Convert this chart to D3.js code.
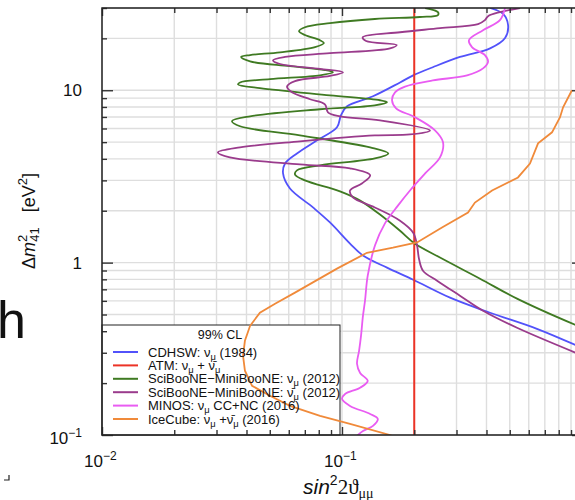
<!DOCTYPE html>
<html>
<head>
<meta charset="utf-8">
<title>sterile nu_mu disappearance limits</title>
<script src="https://d3js.org/d3.v7.min.js"></script>
<style>
  body { margin: 0; background: #fff; }
  text { font-family: "Liberation Sans", Arial, sans-serif; fill: #111; }
</style>
</head>
<body>
<svg id="chart" width="575" height="500"></svg>
<script>
// each point: [sin^2 2theta_mumu, dm2_41 (eV^2)]
var cdhsw = [[0.414,30],[0.469,27.7],[0.492,23.9],[0.478,20.1],[0.414,17.5],[0.310,15.6],[0.239,13.6],
  [0.198,12.2],[0.1745,11.1],[0.1346,9.23],[0.105,8.07],[0.099,7.16],[0.0953,6.10],[0.0787,5.12],
  [0.0649,4.30],[0.0579,3.76],[0.0568,3.29],[0.0607,2.69],[0.0757,2.09],[0.0891,1.71],[0.108,1.29],
  [0.1223,1.10],[0.154,0.935],[0.198,0.796],[0.282,0.626],[0.414,0.512],[0.649,0.413],[1.0,0.32]];

var atm = [[0.2,0.1],[0.2,30]];

var sbmbNu = [[0.222,30],[0.251,28.4],[0.251,27.3],[0.211,26.6],[0.137,25.9],[0.0891,24.5],[0.0701,23.2],
  [0.0662,22.0],[0.0701,20.9],[0.081,19.5],[0.0841,18.8],[0.0772,17.8],[0.0552,16.6],[0.0414,16.0],
  [0.038,15.6],[0.0414,14.7],[0.0607,13.8],[0.0849,13.1],[0.0917,12.7],[0.081,12.2],[0.0501,11.6],
  [0.0376,11.1],[0.0369,10.8],[0.0455,10.3],[0.0891,9.35],[0.144,8.75],[0.154,8.52],[0.137,8.18],
  [0.081,7.76],[0.0414,7.06],[0.0348,6.61],[0.0376,6.18],[0.0668,5.47],[0.131,4.66],[0.156,4.30],
  [0.137,4.02],[0.081,3.67],[0.0649,3.43],[0.0637,3.25],[0.0701,3.00],[0.0981,2.59],[0.119,2.29],
  [0.144,1.90],[0.1745,1.53],[0.201,1.29],[0.256,1.07],[0.376,0.807],[0.536,0.618],[0.935,0.436],[1.0,0.42]];

var sbmbNubar = [[0.552,30],[0.455,28.4],[0.406,26.9],[0.394,25.5],[0.369,24.2],[0.256,22.9],[0.1745,21.7],
  [0.122,20.3],[0.126,19.3],[0.169,18.3],[0.1585,17.5],[0.0891,16.4],[0.0579,15.6],[0.0516,14.9],
  [0.0552,14.2],[0.081,13.3],[0.101,12.7],[0.0891,12.1],[0.0637,11.3],[0.059,10.5],[0.0619,9.73],
  [0.0736,8.87],[0.0849,8.29],[0.0874,7.45],[0.0981,7.06],[0.144,6.69],[0.2326,5.85],[0.192,5.54],
  [0.137,5.47],[0.0668,5.05],[0.0376,4.66],[0.0304,4.36],[0.0341,4.08],[0.0668,3.71],[0.108,3.52],
  [0.131,3.21],[0.121,2.88],[0.108,2.62],[0.111,2.39],[0.137,2.09],[0.1745,1.75],[0.198,1.49],
  [0.2054,1.26],[0.2094,1.05],[0.2175,0.898],[0.249,0.786],[0.310,0.643],[0.387,0.526],[0.536,0.419],[1.0,0.29]];

var minos = [[0.478,30],[0.455,25.5],[0.387,22.3],[0.338,19.5],[0.348,17.8],[0.394,16.0],[0.406,14.6],
  [0.387,13.4],[0.332,12.2],[0.239,11.4],[0.183,10.5],[0.1663,9.73],[0.1616,8.75],[0.168,7.86],
  [0.2014,6.97],[0.244,5.85],[0.2636,4.99],[0.256,4.08],[0.222,3.29],[0.192,2.62],[0.171,2.14],
  [0.151,1.69],[0.1373,1.26],[0.128,0.84],[0.1247,0.601],[0.1223,0.492],[0.12,0.376],[0.1178,0.308],
  [0.1155,0.259],[0.119,0.229],[0.128,0.206],[0.119,0.188],[0.103,0.173],[0.1,0.162],[0.108,0.1475],
  [0.131,0.1325],[0.141,0.124],[0.1346,0.113],[0.1223,0.1055],[0.1155,0.099]];

var icecube = [[0.17,0.096],[0.1585,0.1],[0.108,0.116],[0.081,0.129],[0.0607,0.1475],[0.0501,0.169],[0.0422,0.193],
  [0.0394,0.236],[0.0387,0.288],[0.0394,0.352],[0.0414,0.43],[0.0455,0.512],[0.0526,0.578],[0.0637,0.67],
  [0.0953,0.923],[0.127,1.14],[0.163,1.22],[0.2054,1.31],[0.261,1.60],[0.335,1.95],[0.358,2.23],
  [0.422,2.62],[0.541,3.12],[0.607,3.76],[0.656,4.92],[0.75,5.70],[0.81,6.97],[0.834,7.97],[0.908,10.0]];

var seriesNames = ['CDHSW', 'ATM', 'SciBooNE-MiniBooNE nu', 'SciBooNE-MiniBooNE nubar', 'MINOS', 'IceCube'];
var seriesData = [cdhsw, atm, sbmbNu, sbmbNubar, minos, icecube];
var seriesColors = ['#5252fa', '#ec3326', '#3f7a22', '#9a3b8c', '#e95cf2', '#f08a3a'];

// legend labels: [text, style]  style: '' normal, 'sub' subscript
var legendLabels = [
  [['CDHSW: ν',''],['μ','sub'],[' (1984)','']],
  [['ATM: ν',''],['μ','sub'],[' + ν\u0304',''],['μ','sub']],
  [['SciBooNE−MiniBooNE: ν',''],['μ','sub'],[' (2012)','']],
  [['SciBooNE−MiniBooNE: ν\u0304',''],['μ','sub'],[' (2012)','']],
  [['MINOS: ν',''],['μ','sub'],[' CC+NC (2016)','']],
  [['IceCube: ν',''],['μ','sub'],[' +ν\u0304',''],['μ','sub'],[' (2016)','']]
];

var xMajor = [0.01, 0.1, 1];
var xMinor = [0.02,0.03,0.04,0.05,0.06,0.07,0.08,0.09,0.2,0.3,0.4,0.5,0.6,0.7,0.8,0.9];
var yMajor = [0.1, 1, 10];
var yMinor = [0.2,0.3,0.4,0.5,0.6,0.7,0.8,0.9,2,3,4,5,6,7,8,9,20,30];
var xTickLabels = [['10','−2'], ['10','−1']];
var yTickLabels = [['10','−1'], ['1',''], ['10','']];

(function draw() {
  var svg = d3.select('#chart');
  var pl = 102, pr = 582, pt = 8, pb = 435;

  var x = d3.scaleLog().domain([0.01, 1]).range([pl, pr]);
  var y = d3.scaleLog().domain([0.1, 30]).range([pb, pt]);

  // big stray glyph at the left edge of the picture
  svg.append('text').attr('x', -3).attr('y', 338).style('font-size', '52px').text('h');
  svg.append('path').attr('d', 'M4,480 L9,480 L9,475').attr('fill', 'none').attr('stroke', '#222').attr('stroke-width', 1.2);

  // grid
  var grid = svg.append('g');
  grid.selectAll('.gx').data(xMajor.concat(xMinor)).enter().append('line')
    .attr('x1', d => x(d)).attr('x2', d => x(d)).attr('y1', pt).attr('y2', pb)
    .attr('stroke', '#dedede').attr('stroke-width', 1.4);
  grid.selectAll('.gy').data(yMajor.concat(yMinor)).enter().append('line')
    .attr('y1', d => y(d)).attr('y2', d => y(d)).attr('x1', pl).attr('x2', pr)
    .attr('stroke', '#dedede').attr('stroke-width', 1.4);

  // legend box (under the curves)
  svg.append('rect').attr('x', pl).attr('y', 325).attr('width', 238).attr('height', pb - 325)
    .attr('fill', '#fff').attr('stroke', '#222').attr('stroke-width', 1);

  // curves
  svg.append('clipPath').attr('id', 'plotclip').append('rect')
    .attr('x', pl).attr('y', pt).attr('width', pr - pl).attr('height', pb - pt);
  var curves = svg.append('g').attr('clip-path', 'url(#plotclip)');

  seriesData.forEach(function(d, i) {
    var line = d3.line()
      .x(p => x(p[0])).y(p => y(p[1]))
      .curve(i == 5 || i == 1 ? d3.curveLinear : d3.curveCatmullRom.alpha(0.5));
    curves.append('path').datum(d)
      .attr('d', line)
      .attr('fill', 'none')
      .attr('stroke', seriesColors[i])
      .attr('stroke-width', i == 1 ? 2 : 1.8);
  });

  // legend content
  svg.append('text').attr('x', 220).attr('y', 339).attr('text-anchor', 'middle')
    .style('font-size', '12.5px').text('99% CL');

  function richText(sel, parts, size) {
    var shift = 0;
    parts.forEach(function(p) {
      var t = sel.append('tspan').text(p[0]);
      var want = p[1] == 'sub' ? 3 : 0;
      t.attr('dy', want - shift);
      shift = want;
      if (p[1] == 'sub') t.style('font-size', (size * 0.72) + 'px');
    });
  }

  legendLabels.forEach(function(parts, i) {
    var ly = 352 + i * 13.4;
    svg.append('line').attr('x1', 113).attr('x2', 138).attr('y1', ly).attr('y2', ly)
      .attr('stroke', seriesColors[i]).attr('stroke-width', 2);
    var t = svg.append('text').attr('x', 148).attr('y', ly + 4.5).style('font-size', '13px');
    richText(t, parts, 13);
  });

  // axes: ticks pointing inward, frame drawn separately
  function ticks(axis, vals, size, tr) {
    var g = svg.append('g').attr('transform', tr)
      .call(axis.tickValues(vals).tickSize(-size).tickFormat(''));
    g.select('.domain').remove();
    g.selectAll('line').attr('stroke', '#333').attr('stroke-width', 1.4);
  }
  ticks(d3.axisLeft(y), yMinor, 5, 'translate(' + pl + ',0)');
  ticks(d3.axisLeft(y), yMajor, 11, 'translate(' + pl + ',0)');
  ticks(d3.axisRight(y), yMajor, 10, 'translate(' + pr + ',0)');
  ticks(d3.axisBottom(x), xMinor, 5, 'translate(0,' + pb + ')');
  ticks(d3.axisBottom(x), xMajor, 8, 'translate(0,' + pb + ')');
  ticks(d3.axisTop(x), xMinor, 5, 'translate(0,' + pt + ')');
  ticks(d3.axisTop(x), xMajor, 8, 'translate(0,' + pt + ')');

  svg.append('path')
    .attr('d', 'M' + pr + ',' + pt + 'H' + pl + 'V' + pb + 'H' + pr)
    .attr('fill', 'none').attr('stroke', '#222').attr('stroke-width', 1.5);

  // tick labels
  yMajor.forEach(function(v, i) {
    var t = svg.append('text').attr('x', 82).attr('y', y(v) + (i == 0 ? 9 : 6))
      .attr('text-anchor', 'end').style('font-size', '17px');
    t.append('tspan').text(yTickLabels[i][0]);
    if (yTickLabels[i][1]) t.append('tspan').attr('dy', -7).style('font-size', '12px').text(yTickLabels[i][1]);
  });
  xMajor.slice(0, 2).forEach(function(v, i) {
    var t = svg.append('text').attr('x', x(v) - 18).attr('y', 467).style('font-size', '17px');
    t.append('tspan').text(xTickLabels[i][0]);
    t.append('tspan').attr('dy', -7).style('font-size', '12px').text(xTickLabels[i][1]);
  });

  // axis titles
  var yt = svg.append('text').attr('transform', 'translate(35,221) rotate(-90)')
    .attr('text-anchor', 'middle').style('font-size', '18px');
  yt.append('tspan').text('Δ');
  yt.append('tspan').style('font-style', 'italic').text('m');
  yt.append('tspan').attr('dy', -8).style('font-size', '13px').text('2');
  yt.append('tspan').attr('dx', -7).attr('dy', 12).style('font-size', '13px').text('41');
  yt.append('tspan').attr('dy', -4).text('\u00a0\u00a0\u00a0[eV');
  yt.append('tspan').attr('dy', -8).style('font-size', '13px').text('2');
  yt.append('tspan').attr('dy', 8).text(']');

  var serif = '"Liberation Serif", "DejaVu Serif", serif';
  var xt = svg.append('text').attr('x', 303).attr('y', 494).style('font-size', '21px');
  xt.append('tspan').style('font-style', 'italic').text('sin');
  xt.append('tspan').attr('dy', -9).style('font-size', '14px').text('2');
  xt.append('tspan').attr('dy', 9).style('font-family', serif).text('2ϑ');
  xt.append('tspan').attr('dy', 4).style('font-family', serif).style('font-size', '14px').text('μμ');
})();
</script>
</body>
</html>
